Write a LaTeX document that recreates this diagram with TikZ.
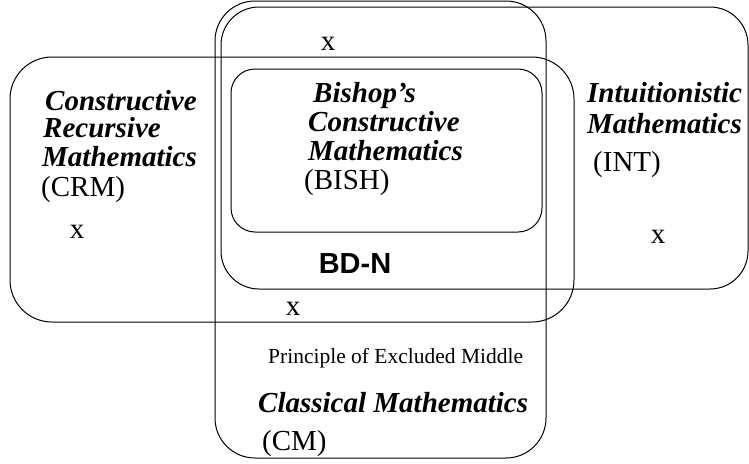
\documentclass[tikz,border=0pt]{standalone}
\usepackage{fontspec}
\setmainfont{Liberation Serif}
\newfontfamily\hvfont{Liberation Sans}
\begin{document}
\begin{tikzpicture}[x=1pt,y=-1pt,
  region/.style={draw=black,line width=1pt},
  lbl/.style={anchor=base west,inner sep=0pt,font=\fontsize{29}{29}\selectfont\bfseries\itshape},
  abbr/.style={anchor=base west,inner sep=0pt,font=\fontsize{29}{29}\selectfont},
  xmark/.style={anchor=base,inner sep=0pt,font=\fontsize{29}{29}\selectfont}]
\useasboundingbox (0,0) rectangle (749,463);
% regions
\draw[region,rounded corners=40pt] (215,1) rectangle (546,458);   % CM
\draw[region,rounded corners=38pt] (221,7) rectangle (748,289);   % INT
\draw[region,rounded corners=42pt] (10,57) rectangle (574,322);   % CRM
\draw[region,rounded corners=24pt] (231,69) rectangle (542,232);  % BISH
% CRM label
\node[lbl] (crm1) at (45,110) {Constructive};
\node[lbl] (crm2) at (43,137) {Recursive};
\node[lbl] (crm3) at (42,166) {Mathematics};
\node[abbr] (crm4) at (41,196) {(CRM)};
% BISH label
\node[lbl] (bi1) at (313,102) {Bishop’s};
\node[lbl] (bi2) at (308,131) {Constructive};
\node[lbl] (bi3) at (308,160) {Mathematics};
\node[abbr] (bi4) at (304,189) {(BISH)};
% INT label
\node[lbl] (in1) at (587,102) {Intuitionistic};
\node[lbl] (in2) at (587,133) {Mathematics};
\node[abbr] (in3) at (593,171) {(INT)};
% CM label
\node[anchor=base west,inner sep=0pt,font=\fontsize{21.5}{21.5}\selectfont] (pem) at (268,363) {Principle of Excluded Middle};
\node[lbl] (cm1) at (258,412) {Classical Mathematics};
\node[abbr] (cm2) at (262,450) {(CM)};
% BD-N
\node[anchor=base,inner sep=0pt,font=\fontsize{29}{29}\selectfont\hvfont\bfseries] (bdn) at (355,273) {BD-N};
% x marks
\node[xmark] (x1) at (328,50) {x};
\node[xmark] (x2) at (77,238) {x};
\node[xmark] (x3) at (658,243) {x};
\node[xmark] (x4) at (293,315) {x};
\end{tikzpicture}
\end{document}
